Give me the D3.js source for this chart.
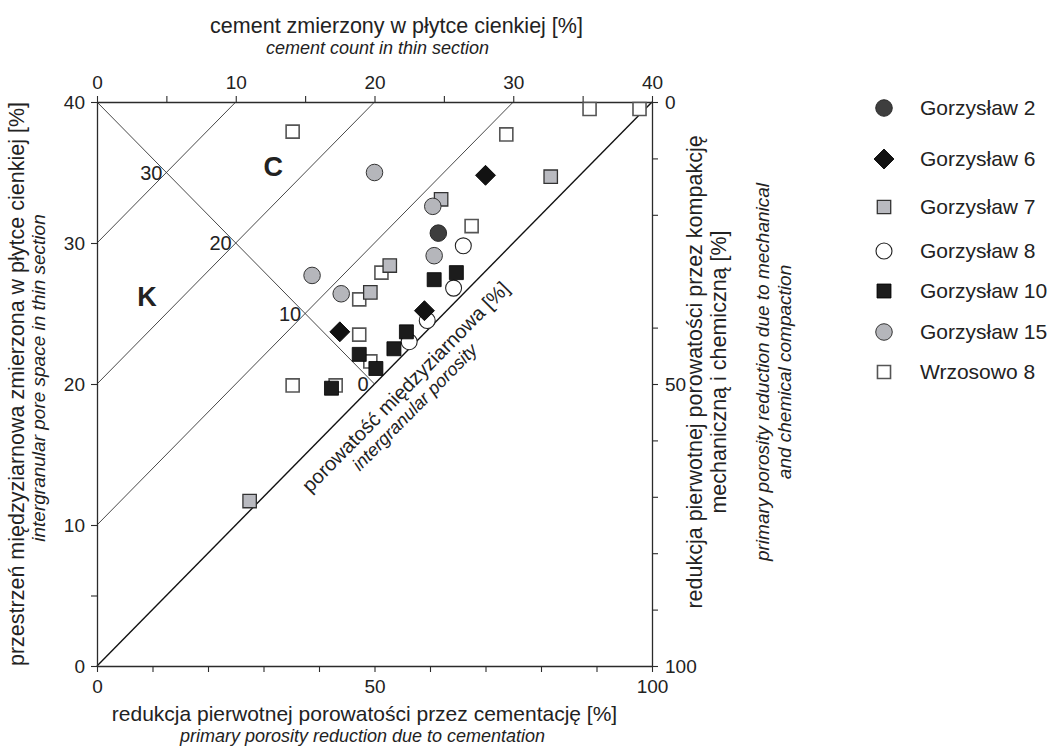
<!DOCTYPE html>
<html>
<head>
<meta charset="utf-8">
<script src="https://cdn.jsdelivr.net/npm/d3@7"></script>
<style>
  body { margin: 0; background: #fff; }
  svg { font-family: "Liberation Sans", Arial, sans-serif; }
</style>
</head>
<body>
<svg id="chart" width="1054" height="748"></svg>
<script>
// values read as [cement %, intergranular volume %]
const seriesNames = ['Gorzysław 2', 'Gorzysław 6', 'Gorzysław 7', 'Gorzysław 8', 'Gorzysław 10', 'Gorzysław 15', 'Wrzosowo 8'];
const g2 = [[24.6, 30.7]];
const g6 = [[28.0, 34.8], [17.5, 23.7], [23.6, 25.2]];
const g7 = [[32.7, 34.7], [24.8, 33.1], [21.1, 28.4], [19.7, 26.5], [11.0, 11.7]];
const g8 = [[26.4, 29.8], [25.7, 26.8], [23.8, 24.5], [22.5, 23.0]];
const g10 = [[24.3, 27.4], [25.9, 27.9], [22.3, 23.7], [21.4, 22.5], [18.9, 22.1], [20.1, 21.1], [16.9, 19.7]];
const g15 = [[20.0, 35.0], [24.2, 32.6], [24.3, 29.1], [15.5, 27.7], [17.6, 26.4]];
const w8 = [[14.1, 37.9], [29.5, 37.7], [35.5, 39.5], [39.1, 39.5], [27.0, 31.2], [20.5, 27.9], [18.9, 26.0], [18.9, 23.5], [19.7, 21.6], [14.1, 19.9], [17.2, 19.9]];

const porosityLevels = [30, 20, 10, 0];
const topTicks = [0, 5, 10, 15, 20, 25, 30, 35, 40];
const leftTicks = [0, 5, 10, 20, 30, 40];
const bottomTicks = [0, 10, 20, 30, 40, 50, 60, 70, 80, 90, 100];
const rightTicks = [0, 10, 20, 40, 50, 60, 70, 80, 90, 100];

const svg = d3.select('#chart');
const pLeft = 97, pRight = 652, pTop = 102, pBottom = 666;

const xC = d3.scaleLinear().domain([0, 40]).range([pLeft, pRight]);
const yI = d3.scaleLinear().domain([0, 40]).range([pBottom, pTop]);
const xB = d3.scaleLinear().domain([0, 100]).range([pLeft, pRight]);
const yR = d3.scaleLinear().domain([0, 100]).range([pTop, pBottom]);

const ink = '#2b2b2b';

// iso-porosity lines
const lines = svg.append('g');
porosityLevels.forEach(p => {
	lines.append('line')
		.attr('x1', xC(0)).attr('y1', yI(p))
		.attr('x2', xC(40 - p)).attr('y2', yI(40))
		.attr('stroke', p == 0 ? '#111' : '#333')
		.attr('stroke-width', p == 0 ? 1.4 : 0.9);
});
// total = 40 line
lines.append('line')
	.attr('x1', xC(0)).attr('y1', yI(40))
	.attr('x2', xC(20)).attr('y2', yI(20))
	.attr('stroke', '#333')
	.attr('stroke-width', 0.9);

lines.selectAll('text.lvl')
	.data(porosityLevels)
	.enter()
	.append('text')
	.attr('x', d => xC((40 - d) / 2) - (d == 0 ? 6 : 4))
	.attr('y', d => yI((40 + d) / 2) + 7)
	.attr('text-anchor', 'end')
	.attr('font-size', 20)
	.attr('fill', '#222')
	.text(d => d);

svg.append('text').attr('x', xC(12.7)).attr('y', yI(35.4) + 9)
	.attr('text-anchor', 'middle').attr('font-size', 27).attr('font-weight', 'bold').attr('fill', '#222').text('C');
svg.append('text').attr('x', xC(3.6)).attr('y', yI(26.2) + 9)
	.attr('text-anchor', 'middle').attr('font-size', 27).attr('font-weight', 'bold').attr('fill', '#222').text('K');

// label along zero-porosity line
const ang = -Math.atan((pBottom - pTop) / (pRight - pLeft)) * 180 / Math.PI;
const diag = svg.append('g')
	.attr('transform', `translate(${xC(21)},${yI(21)}) rotate(${ang})`);
diag.append('text').attr('y', 31).attr('text-anchor', 'middle').attr('font-size', 20).attr('fill', '#222')
	.text('porowatość międzyziarnowa [%]');
diag.append('text').attr('x', -8).attr('y', 51).attr('text-anchor', 'middle').attr('font-size', 18)
	.attr('font-style', 'italic').attr('fill', '#222').text('intergranular porosity');

// axes
function styleAxis(g) {
	g.select('.domain').attr('stroke', ink).attr('stroke-width', 1.3);
	g.selectAll('.tick line').attr('stroke', ink).attr('stroke-width', 1.1);
	g.selectAll('.tick text').attr('font-size', 19).attr('fill', '#222')
		.attr('font-family', '"Liberation Sans", Arial, sans-serif');
}
svg.append('g').attr('transform', `translate(0,${pTop})`)
	.call(d3.axisTop(xC).tickValues(topTicks).tickSize(6).tickSizeOuter(0).tickPadding(7)
		.tickFormat(d => d % 10 == 0 ? d : ''))
	.call(styleAxis);
svg.append('g').attr('transform', `translate(${pLeft},0)`)
	.call(d3.axisLeft(yI).tickValues(leftTicks).tickSize(6).tickSizeOuter(0).tickPadding(6)
		.tickFormat(d => d % 10 == 0 ? d : ''))
	.call(styleAxis);
svg.append('g').attr('transform', `translate(0,${pBottom})`)
	.call(d3.axisBottom(xB).tickValues(bottomTicks).tickSize(6).tickSizeOuter(0).tickPadding(8)
		.tickFormat(d => d % 50 == 0 ? d : ''))
	.call(styleAxis);
svg.append('g').attr('transform', `translate(${pRight},0)`)
	.call(d3.axisRight(yR).tickValues(rightTicks).tickSize(6).tickSizeOuter(0).tickPadding(7)
		.tickFormat(d => d % 50 == 0 ? d : ''))
	.call(styleAxis);

// axis titles
const cx = (pLeft + pRight) / 2, cy = (pTop + pBottom) / 2;
function title(x, y, rot, txt, size, italic) {
	svg.append('text')
		.attr('transform', `translate(${x},${y}) rotate(${rot})`)
		.attr('text-anchor', 'middle')
		.attr('font-size', size)
		.attr('font-style', italic ? 'italic' : 'normal')
		.attr('fill', '#222')
		.text(txt);
}
title(cx + 22, 33, 0, 'cement zmierzony w płytce cienkiej [%]', 21.5, false);
title(cx + 3, 54, 0, 'cement count in thin section', 18, true);
title(cx - 10, 721, 0, 'redukcja pierwotnej porowatości przez cementację [%]', 21, false);
title(cx - 12, 742, 0, 'primary porosity reduction due to cementation', 18, true);
title(24, cy, -90, 'przestrzeń międzyziarnowa zmierzona w płytce cienkiej [%]', 21.5, false);
title(45, cy - 6, -90, 'intergranular pore space in thin section', 19, true);
title(702, cy - 12, -90, 'redukcja pierwotnej porowatości przez kompakcję', 21.5, false);
title(726, cy - 12, -90, 'mechaniczną i chemiczną [%]', 21.5, false);
title(769, cy - 12, -90, 'primary porosity reduction due to mechanical', 19, true);
title(791, cy - 12, -90, 'and chemical compaction', 19, true);

// markers
const styles = {
	'Gorzysław 2': {type: d3.symbolCircle, size: 215, fill: '#3e3e3e', stroke: '#2a2a2a', sw: 1, rot: 0},
	'Gorzysław 6': {type: d3.symbolSquare, size: 200, fill: '#121212', stroke: '#000', sw: 0.8, rot: 45},
	'Gorzysław 7': {type: d3.symbolSquare, size: 180, fill: '#b9bac0', stroke: '#333', sw: 1.3, rot: 0},
	'Gorzysław 8': {type: d3.symbolCircle, size: 200, fill: '#fff', stroke: '#222', sw: 1.1, rot: 0},
	'Gorzysław 10': {type: d3.symbolSquare, size: 196, fill: '#1c1c1c', stroke: '#000', sw: 0.8, rot: 0},
	'Gorzysław 15': {type: d3.symbolCircle, size: 215, fill: '#b5b6bb', stroke: '#333', sw: 1, rot: 0},
	'Wrzosowo 8': {type: d3.symbolSquare, size: 170, fill: '#fff', stroke: '#555', sw: 1.6, rot: 0}
};
const seriesData = {
	'Gorzysław 2': g2, 'Gorzysław 6': g6, 'Gorzysław 7': g7, 'Gorzysław 8': g8,
	'Gorzysław 10': g10, 'Gorzysław 15': g15, 'Wrzosowo 8': w8
};
const drawOrder = ['Wrzosowo 8', 'Gorzysław 7', 'Gorzysław 15', 'Gorzysław 8', 'Gorzysław 10', 'Gorzysław 6', 'Gorzysław 2'];

const points = svg.append('g');
drawOrder.forEach(name => {
	const s = styles[name];
	points.append('g')
		.selectAll('path')
		.data(seriesData[name])
		.enter()
		.append('path')
		.attr('d', d3.symbol().type(s.type).size(s.size))
		.attr('transform', d => `translate(${xC(d[0])},${yI(d[1])}) rotate(${s.rot})`)
		.attr('fill', s.fill)
		.attr('stroke', s.stroke)
		.attr('stroke-width', s.sw);
});

// legend
const legendY = [108, 159, 207, 251, 291, 332, 372];
const legend = svg.append('g')
	.selectAll('g')
	.data(seriesNames)
	.enter()
	.append('g')
	.attr('transform', (d, i) => `translate(884,${legendY[i]})`);
legend.append('path')
	.attr('d', d => d3.symbol().type(styles[d].type).size(styles[d].size)())
	.attr('transform', d => `rotate(${styles[d].rot})`)
	.attr('fill', d => styles[d].fill)
	.attr('stroke', d => styles[d].stroke)
	.attr('stroke-width', d => styles[d].sw);
legend.append('text')
	.attr('x', 36)
	.attr('y', 7)
	.attr('font-size', 21)
	.attr('fill', '#222')
	.text(d => d);
</script>
</body>
</html>
